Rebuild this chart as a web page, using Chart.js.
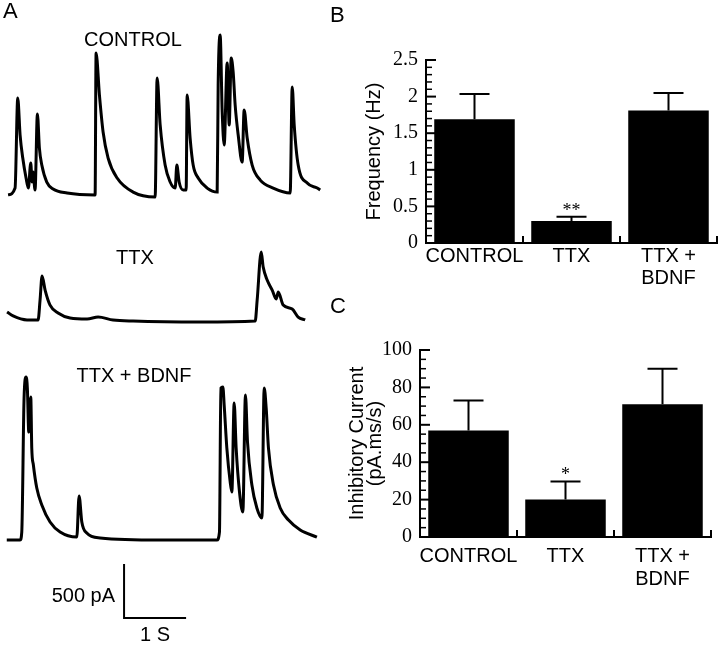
<!DOCTYPE html>
<html>
<head>
<meta charset="utf-8">
<script src="https://cdn.jsdelivr.net/npm/chart.js@4.4.1/dist/chart.umd.min.js"></script>
<style>
  body { margin: 0; background: #fff; width: 720px; height: 647px; position: relative; overflow: hidden; font-family: 'Liberation Sans', Arial, sans-serif; }
  canvas, .lbl { position: absolute; }
  .lbl { line-height: 1; color: #000; white-space: nowrap; }
  .trace-title { width: 200px; text-align: center; font-size: 20px; }
  .panel { font-size: 22px; }
</style>
</head>
<body>
<canvas id="traceControl" width="330" height="190" style="left:0;top:20px"></canvas>
<canvas id="traceTtx" width="330" height="95" style="left:0;top:235px"></canvas>
<canvas id="traceBdnf" width="330" height="287" style="left:0;top:360px"></canvas>
<canvas id="chartFreq" width="380" height="260" style="left:340px;top:40px"></canvas>
<canvas id="chartCurrent" width="380" height="317" style="left:340px;top:330px"></canvas>
<div class="lbl panel" style="left:3px;top:0px">A</div>
<div class="lbl panel" style="left:330px;top:4px">B</div>
<div class="lbl panel" style="left:330px;top:295px">C</div>
<div class="lbl trace-title" style="left:33px;top:29px">CONTROL</div>
<div class="lbl trace-title" style="left:35px;top:247px">TTX</div>
<div class="lbl trace-title" style="left:34px;top:365px">TTX + BDNF</div>
<script>
// panel A traces: time (s) and current (pA above baseline)
const controlT = [0, 0.113, 0.156, 0.194, 0.237, 0.29, 0.327, 0.366, 0.387, 0.403, 0.435, 0.473, 0.505, 0.544, 0.624, 0.726, 0.952, 1.403,
  1.419, 1.473, 1.532, 1.613, 1.758, 2.016, 2.371, 2.403, 2.452, 2.532, 2.613, 2.694, 2.721, 2.758, 2.823, 2.871,
  2.887, 2.935, 2.984, 3.065, 3.21, 3.371, 3.387, 3.419, 3.452, 3.484, 3.532, 3.565, 3.597, 3.629, 3.661, 3.71,
  3.774, 3.806, 3.855, 3.935, 4.065, 4.274, 4.548, 4.581, 4.613, 4.677, 4.823, 4.984, 5.032];
const controlI = [20, 83, 917, 574, 361, 176, 83, 315, 139, 232, 65, 769, 454, 296, 139, 74, 37, 19,
  1333, 944, 602, 361, 176, 46, 0, 1102, 667, 296, 139, 83, 296, 139, 65, 65,
  944, 546, 296, 176, 83, 46, 1037, 1500, 787, 482, 1241, 667, 1287, 1157, 852, 574,
  324, 806, 546, 296, 157, 83, 37, 1019, 667, 296, 130, 83, 65];

const ttxT = [-0.016, 0.081, 0.306, 0.484, 0.516, 0.548, 0.597, 0.677, 0.806, 1.0, 1.274, 1.452, 1.694, 2.016, 3.097,
  3.984, 4.016, 4.081, 4.113, 4.177, 4.258, 4.323, 4.355, 4.435, 4.581, 4.677, 4.79];
const ttxI = [93, 56, 19, 19, 204, 426, 296, 157, 83, 37, 28, 46, 19, 9, 0,
  9, 204, 648, 509, 389, 296, 213, 278, 157, 120, 46, 19];

const bdnfT = [-0.021, 0.194, 0.221, 0.258, 0.29, 0.311, 0.334, 0.366, 0.382, 0.408, 0.463, 0.544, 0.677, 0.839, 1.108,
  1.145, 1.189, 1.269, 1.484, 2.452, 3.366, 3.408, 3.431, 3.463, 3.484, 3.527, 3.581, 3.608, 3.645, 3.677, 3.731,
  3.785, 3.827, 3.86, 3.931, 4.011, 4.092, 4.129, 4.161, 4.198, 4.279, 4.387, 4.521, 4.71, 4.979];
const bdnfI = [9, 9, 83, 1324, 1519, 1417, 1009, 1333, 861, 704, 491, 333, 176, 83, 37,
  417, 176, 74, 28, 9, 9, 83, 1417, 1426, 1259, 861, 546, 454, 1278, 861, 454,
  269, 1352, 917, 519, 306, 213, 1417, 1232, 861, 519, 306, 194, 102, 37];

// scale bar
const barTime = 1;      // s
const barCurrent = 500; // pA

// panels B and C
const categories = ['CONTROL', 'TTX', ['TTX +', 'BDNF']];
const frequency = [1.69, 0.30, 1.81];
const frequencyErr = [0.345, 0.06, 0.24];
const frequencySig = ['', '**', ''];
const inhibCurrent = [57, 20, 71];
const inhibCurrentErr = [16, 9.7, 19];
const inhibCurrentSig = ['', '*', ''];

const SANS = '"Liberation Sans", Arial, sans-serif';
const SERIF = '"Liberation Serif", "Times New Roman", serif';
Chart.defaults.color = '#000';

function traceChart(id, t, cur, yMin, yMax, extra) {
  return new Chart(document.getElementById(id), {
    type: 'line',
    data: {
      datasets: [{
        data: t.map((x, i) => ({ x, y: cur[i] })),
        borderColor: '#000',
        borderWidth: 3,
        pointRadius: 0,
        cubicInterpolationMode: 'monotone',
        fill: false
      }]
    },
    options: {
      responsive: false,
      animation: false,
      events: [],
      layout: { padding: 0 },
      plugins: { legend: { display: false }, tooltip: { enabled: false } },
      scales: {
        x: { type: 'linear', min: -0.13, max: 5.19, display: false },
        y: { min: yMin, max: yMax, display: false }
      }
    },
    plugins: extra ? [extra] : []
  });
}

const scaleBar = {
  id: 'scaleBar',
  afterDatasetsDraw(chart) {
    const { ctx, scales: { x, y } } = chart;
    const t0 = 1.87, i0 = -713;
    const x0 = x.getPixelForValue(t0), x1 = x.getPixelForValue(t0 + barTime);
    const y0 = y.getPixelForValue(i0), y1 = y.getPixelForValue(i0 + barCurrent);
    ctx.save();
    ctx.strokeStyle = '#000';
    ctx.lineWidth = 2;
    ctx.beginPath();
    ctx.moveTo(x0, y1);
    ctx.lineTo(x0, y0);
    ctx.lineTo(x1, y0);
    ctx.stroke();
    ctx.fillStyle = '#000';
    ctx.font = '20px ' + SANS;
    ctx.textAlign = 'right';
    ctx.textBaseline = 'middle';
    ctx.fillText(barCurrent + ' pA', x0 - 9, (y0 + y1) / 2 + 5);
    ctx.textAlign = 'center';
    ctx.textBaseline = 'top';
    ctx.fillText(barTime + ' S', (x0 + x1) / 2, y0 + 7);
    ctx.restore();
  }
};

traceChart('traceControl', controlT, controlI, -120, 1639);
traceChart('traceTtx', ttxT, ttxI, -74, 806);
traceChart('traceBdnf', bdnfT, bdnfI, -981, 1676, scaleBar);

// error bars, significance marks, inward axis ticks
const barExtras = {
  id: 'barExtras',
  afterDatasetsDraw(chart, args, o) {
    const { ctx, chartArea, scales: { x, y } } = chart;
    const vals = chart.data.datasets[0].data;
    ctx.save();
    ctx.strokeStyle = '#000';
    ctx.fillStyle = '#000';
    ctx.lineWidth = 2;
    chart.getDatasetMeta(0).data.forEach((bar, i) => {
      const top = y.getPixelForValue(vals[i] + o.errors[i]);
      ctx.beginPath();
      ctx.moveTo(bar.x, bar.y);
      ctx.lineTo(bar.x, top);
      ctx.moveTo(bar.x - o.cap, top);
      ctx.lineTo(bar.x + o.cap, top);
      ctx.stroke();
      if (o.marks[i]) {
        ctx.font = '18px ' + SERIF;
        ctx.textAlign = 'center';
        ctx.textBaseline = 'alphabetic';
        ctx.fillText(o.marks[i], bar.x, top - 1);
      }
    });
    // y ticks pointing into the plot
    const n = Math.round((y.max - y.min) / o.minor);
    for (let k = 0; k <= n; k++) {
      const v = y.min + k * o.minor;
      const r = v / o.major;
      const major = Math.abs(r - Math.round(r)) < 1e-6;
      const py = y.getPixelForValue(v);
      ctx.lineWidth = major ? 2 : 1.5;
      ctx.beginPath();
      ctx.moveTo(chartArea.left, py);
      ctx.lineTo(chartArea.left + (major ? 10 : 6), py);
      ctx.stroke();
    }
    // x ticks at category boundaries
    ctx.lineWidth = 2;
    for (let i = 0; i < vals.length; i++) {
      const px = x.getPixelForValue(i + 0.5);
      ctx.beginPath();
      ctx.moveTo(px, chartArea.bottom);
      ctx.lineTo(px, chartArea.bottom - 7);
      ctx.stroke();
    }
    ctx.restore();
  }
};

function barChart(id, values, cfg) {
  return new Chart(document.getElementById(id), {
    type: 'bar',
    data: {
      labels: categories,
      datasets: [{
        data: values,
        backgroundColor: '#000',
        borderWidth: 0,
        barPercentage: 0.83,
        categoryPercentage: 1
      }]
    },
    options: {
      responsive: false,
      animation: false,
      events: [],
      layout: { padding: cfg.padding },
      plugins: {
        legend: { display: false },
        tooltip: { enabled: false },
        barExtras: { errors: cfg.errors, marks: cfg.marks, cap: 15, minor: cfg.minor, major: cfg.major }
      },
      scales: {
        x: {
          grid: { display: true, drawOnChartArea: false, drawTicks: false },
          border: { display: true, color: '#000', width: 2 },
          ticks: { font: { family: SANS, size: 20, lineHeight: cfg.xLine }, padding: cfg.xPad, maxRotation: 0, autoSkip: false },
          afterFit: (s) => { s.height = cfg.xHeight; }
        },
        y: {
          min: 0,
          max: cfg.max,
          grid: { display: true, drawOnChartArea: false, drawTicks: false },
          border: { display: true, color: '#000', width: 2 },
          ticks: {
            stepSize: cfg.major,
            font: { family: SERIF, size: cfg.tickSize },
            padding: 8,
            callback: (v) => String(+v.toFixed(2))
          },
          title: { display: true, text: cfg.title, font: { family: SANS, size: 20, lineHeight: cfg.titleLine }, padding: { top: cfg.titlePad, bottom: 0 } },
          afterFit: (s) => { s.width = cfg.yWidth; }
        }
      }
    },
    plugins: [barExtras]
  });
}

barChart('chartFreq', frequency, {
  errors: frequencyErr, marks: frequencySig, max: 2.5, major: 0.5, minor: 0.1,
  padding: { top: 15, right: 3, left: 0, bottom: 0 },
  xHeight: 57, xPad: 2, xLine: 1.1, yWidth: 86, tickSize: 20,
  title: 'Frequency (Hz)', titleLine: 1.2, titlePad: 22
});

barChart('chartCurrent', inhibCurrent, {
  errors: inhibCurrentErr, marks: inhibCurrentSig, max: 100, major: 20, minor: 5,
  padding: { top: 18, right: 9, left: 0, bottom: 0 },
  xHeight: 110, xPad: 8, xLine: 1.15, yWidth: 80, tickSize: 20,
  title: ['Inhibitory Current', '(pA.ms/s)'], titleLine: 0.9, titlePad: 8
});
</script>
</body>
</html>
